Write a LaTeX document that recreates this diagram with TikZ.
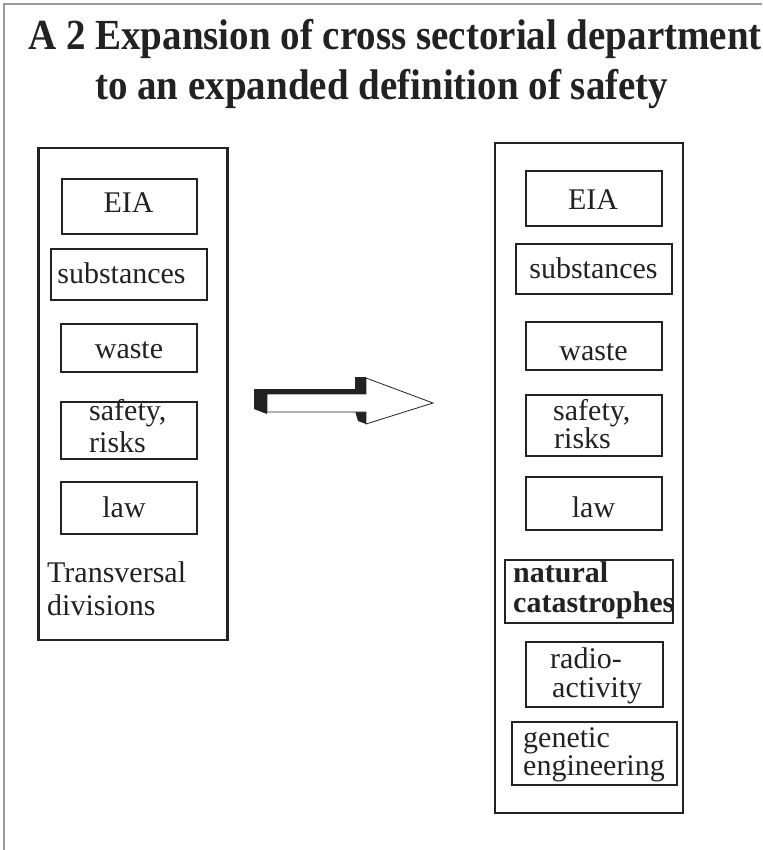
\documentclass[tikz,border=0pt]{standalone}
\usepackage{fontspec}
\setmainfont{Liberation Serif}
\definecolor{ink}{HTML}{222222}
\definecolor{frame}{HTML}{9A9A9A}
\tikzset{
  box/.style={draw=ink, line width=2.2pt, inner sep=0pt},
  lbl/.style={inner sep=0pt, text=ink, font=\fontsize{30}{31}\selectfont},
  lblbf/.style={lbl, font=\fontsize{30}{31}\selectfont\bfseries},
  ttl/.style={inner sep=0pt, anchor=base west, text=ink, yscale=1.1, font=\fontsize{39}{40}\selectfont\bfseries},
}
\begin{document}
\begin{tikzpicture}[x=1pt, y=-1pt]
\useasboundingbox (0,0) rectangle (762,850);
% page frame
\draw[frame, line width=1.2pt] (4,850) -- (4,4) -- (762,4);

% title
\node[ttl] (t1) at (28,50) {A 2 Expansion of cross sectorial department};
\node[ttl] (t2) at (95,100) {to an expanded definition of safety};

% left column
\node[box, minimum width=189pt, minimum height=492pt] (L) at (133,394) {};
\node[box, minimum width=135pt, minimum height=55pt] (L1) at (129.5,206.5) {};
\node[box, minimum width=156pt, minimum height=51pt] (L2) at (129,274.5) {};
\node[box, minimum width=136pt, minimum height=48pt] (L3) at (129,348) {};
\node[box, minimum width=136pt, minimum height=57pt] (L4) at (129,430.5) {};
\node[box, minimum width=136pt, minimum height=52pt] (L5) at (129,508) {};
\node[lbl, anchor=base] (L1t) at (128.5,212) {EIA};
\node[lbl, anchor=base] (L2t) at (121.5,283) {substances};
\node[lbl, anchor=base] (L3t) at (129,358) {waste};
\node[lbl, anchor=base west] (L4a) at (89,420) {safety,};
\node[lbl, anchor=base west] (L4b) at (89,452) {risks};
\node[lbl, anchor=base] (L5t) at (124,517) {law};
\node[lbl, anchor=base west] (Lta) at (47,582) {Transversal};
\node[lbl, anchor=base west] (Ltb) at (47,615) {divisions};

% right column
\node[box, minimum width=188pt, minimum height=670pt] (R) at (589,478) {};
\node[box, minimum width=136pt, minimum height=55pt] (R1) at (594,198.5) {};
\node[box, minimum width=156pt, minimum height=50pt] (R2) at (594,269) {};
\node[box, minimum width=136pt, minimum height=48pt] (R3) at (594,346) {};
\node[box, minimum width=136pt, minimum height=61pt] (R4) at (594,425.5) {};
\node[box, minimum width=136pt, minimum height=53pt] (R5) at (594,503.5) {};
\node[box, minimum width=168pt, minimum height=63pt] (R6) at (589,591.5) {};
\node[box, minimum width=137pt, minimum height=65pt] (R7) at (594.5,674.5) {};
\node[box, minimum width=165pt, minimum height=63pt] (R8) at (594.5,753.5) {};
\node[lbl, anchor=base] (R1t) at (593,210) {EIA};
\node[lbl, anchor=base] (R2t) at (593.5,278) {substances};
\node[lbl, anchor=base] (R3t) at (593.5,360) {waste};
\node[lbl, anchor=base west] (R4a) at (553,420) {safety,};
\node[lbl, anchor=base west] (R4b) at (554,448) {risks};
\node[lbl, anchor=base] (R5t) at (593.5,517) {law};
\node[lblbf, anchor=base west] (R6a) at (513,582) {natural};
\node[lblbf, anchor=base west] (R6b) at (513,612) {catastrophes};
\node[lbl, anchor=base west] (R7a) at (550,668) {radio-};
\node[lbl, anchor=base west] (R7b) at (552,697) {activity};
\node[lbl, anchor=base west] (R8a) at (523,747) {genetic};
\node[lbl, anchor=base west] (R8b) at (523,775) {engineering};

% block arrow with dark extruded edges
\coordinate (ta) at (433,403);
\fill[ink] (254,389) -- (366,389) -- (366,394) -- (267,394) -- (267,414) -- (254,409) -- cycle;
\fill[ink] (355,377) -- (366,377) -- (366,394) -- (355,394) -- cycle;
\fill[ink] (355,411) -- (366,411) -- (366,424) -- (358,421) -- (355,411) -- cycle;
\draw[ink, line width=0.8pt, fill=white, line join=miter]
  (267,394) -- (366,394) -- (366,378) -- (ta) -- (366,424) -- (366,412) -- (267,412) -- cycle;
\end{tikzpicture}
\end{document}
